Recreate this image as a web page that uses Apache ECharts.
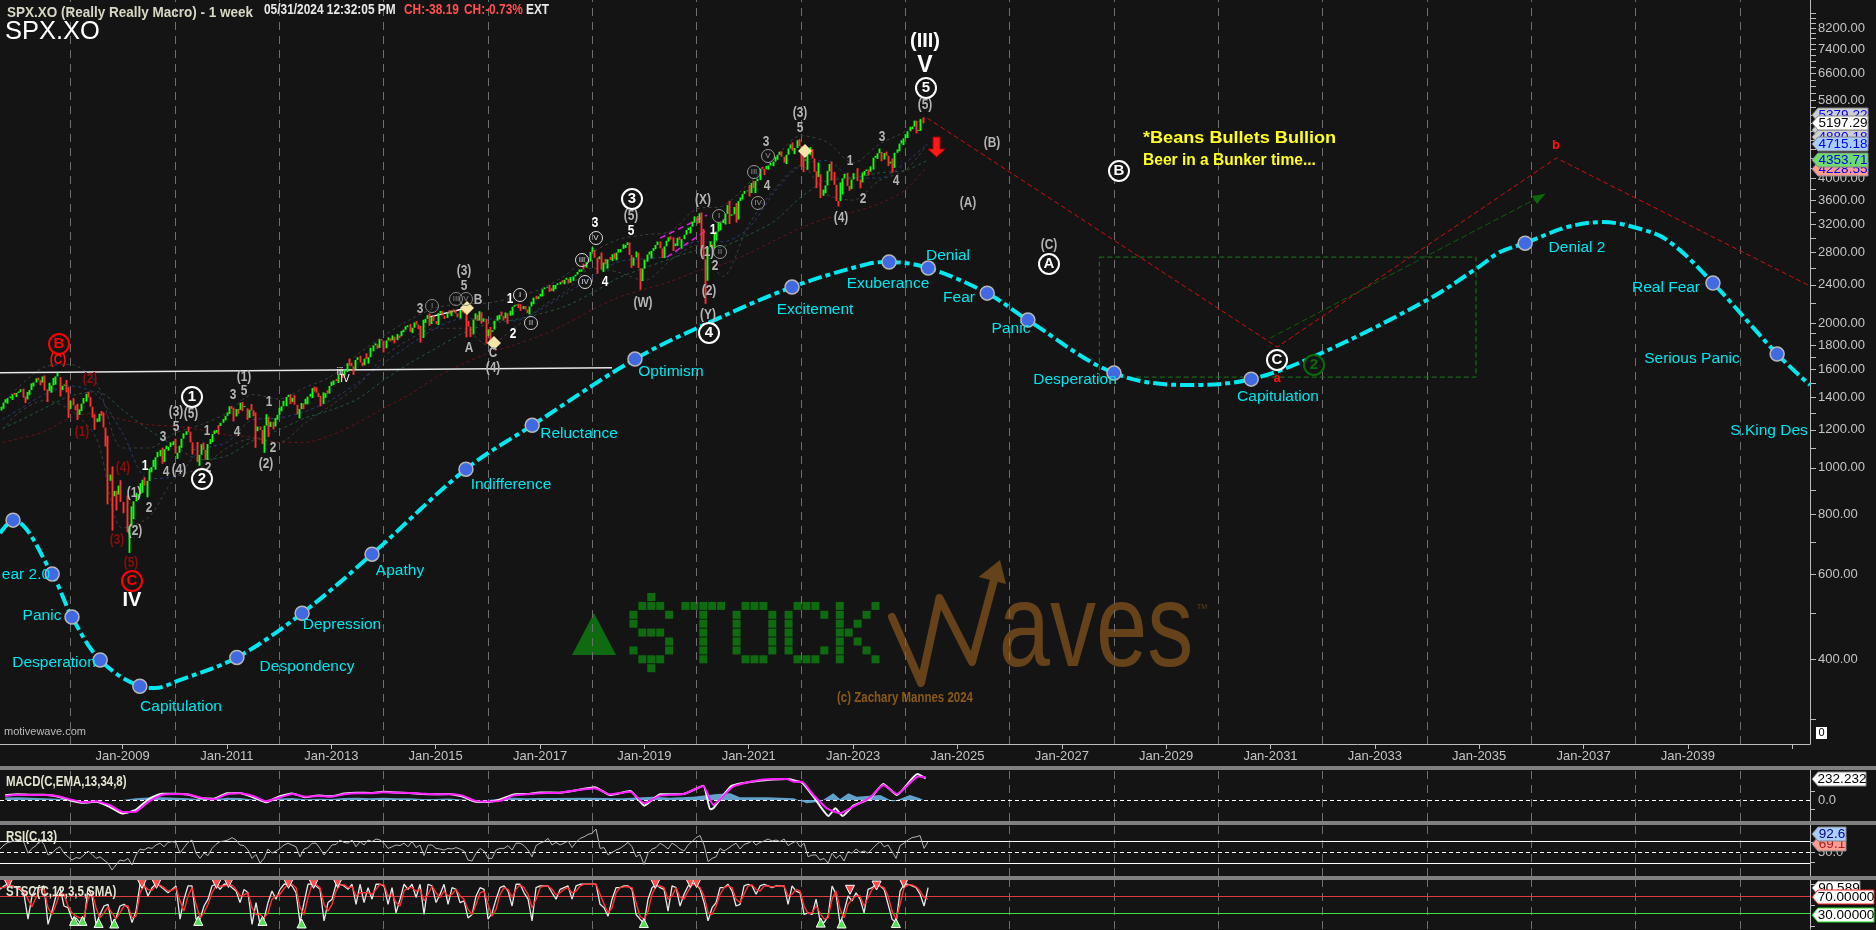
<!DOCTYPE html>
<html><head><meta charset="utf-8">
<style>html,body{margin:0;padding:0;background:#141414;overflow:hidden}#c{width:1876px;height:930px}</style>
<script src="https://cdn.jsdelivr.net/npm/echarts@6/dist/echarts.min.js"></script>
</head><body><div id="c"></div>
<script>
// ---- price history, one row per month from Sep 2006 ----
const priceStartYear = 2006.66;
const priceMid = [1316,1366,1396,1422,
1431,1457,1387,1452,1505,1522,1549,1445,1484,1549,1451,1490,
1325,1349,1288,1360,1425,1340,1245,1295,1213,940,873,880,
850,826,756,852,882,945,940,1004,1052,1090,1094,1105,
1136,1075,1150,1192,1130,1092,1065,1090,1121,1176,1199,1241,
1283,1343,1279,1320,1338,1270,1316,1192,1199,1224,1216,1219,
1289,1343,1404,1370,1353,1325,1356,1406,1465,1433,1359,1430,
1480,1520,1560,1555,1650,1626,1676,1656,1687,1698,1798,1775,
1838,1840,1841,1843,1877,1937,1978,1955,1985,1862,2040,1990,
2019,2097,2071,2106,2123,2094,2126,2091,1966,2033,2023,2012,
1880,1917,2022,2080,2046,2071,2161,2184,2139,2133,2164,2258,
2271,2351,2373,2328,2399,2433,2459,2425,2500,2553,2585,2675,
2810,2732,2750,2670,2712,2779,2801,2850,2904,2768,2736,2600,
2596,2775,2822,2905,2859,2886,3013,2889,3007,2986,3120,3169,
3329,3380,2711,2874,2864,3098,3226,3372,3340,3483,3585,3709,
3768,3906,3943,4185,4173,4247,4327,4468,4432,4471,4698,4620,
4662,4348,4463,4392,4023,3675,3863,4280,3874,3583,3993,3852,
3972,4079,3917,4138,4124,4409,4505,4370,4450,4327,4514,4719,
4839,5005,5117,5011,5303];
const priceClose = [1335.85,1377.94,1400.63,1418.30,
1438.24,1406.82,1420.86,1482.37,1530.62,1503.35,1455.27,1473.99,1526.75,1549.38,1481.14,1468.36,
1378.55,1330.63,1322.70,1385.59,1400.38,1280.00,1267.38,1282.83,1166.36,968.75,896.24,903.25,
825.88,735.09,797.87,872.81,919.14,919.32,987.48,1020.62,1057.08,1036.19,1095.63,1115.10,
1073.87,1104.49,1169.43,1186.69,1089.41,1030.71,1101.60,1049.33,1141.20,1183.26,1180.55,1257.64,
1286.12,1327.22,1325.83,1363.61,1345.20,1320.64,1292.28,1218.89,1131.42,1253.30,1246.96,1257.60,
1312.41,1365.68,1408.47,1397.91,1310.33,1362.16,1379.32,1406.58,1440.67,1412.16,1416.18,1426.19,
1498.11,1514.68,1569.19,1597.57,1630.74,1606.28,1685.73,1632.97,1681.55,1756.54,1805.81,1848.36,
1782.59,1859.45,1872.34,1883.95,1923.57,1960.23,1930.67,2003.37,1972.29,2018.05,2067.56,2058.90,
1994.99,2104.50,2067.89,2085.51,2107.39,2063.11,2103.84,1972.18,1920.03,2079.36,2080.41,2043.94,
1940.24,1932.23,2059.74,2065.30,2096.95,2098.86,2173.60,2170.95,2168.27,2126.15,2198.81,2238.83,
2278.87,2363.64,2362.72,2384.20,2411.80,2423.41,2470.30,2471.65,2519.36,2575.26,2584.84,2673.61,
2823.81,2713.83,2640.87,2648.05,2705.27,2718.37,2816.29,2901.52,2913.98,2711.74,2760.17,2506.85,
2704.10,2784.49,2834.40,2945.83,2752.06,2941.76,2980.38,2926.46,2976.74,3037.56,3140.98,3230.78,
3225.52,2954.22,2584.59,2912.43,3044.31,3100.29,3271.12,3500.31,3363.00,3269.96,3621.63,3756.07,
3714.24,3811.15,3972.89,4181.17,4204.11,4297.50,4395.26,4522.68,4307.54,4605.38,4567.00,4766.18,
4515.55,4373.94,4530.41,4131.93,4132.15,3785.38,4130.29,3955.00,3585.62,3871.98,4080.11,3839.50,
4076.60,3970.15,4109.31,4169.48,4179.83,4450.38,4588.96,4507.66,4288.05,4193.80,4567.80,4769.83,
4845.65,5096.27,5254.35,5035.69,5197.29];
const priceHigh = [1340,1389,1407,1431,
1441,1461,1438,1498,1535,1540,1556,1503,1538,1576,1545,1523,
1471,1396,1359,1397,1440,1404,1292,1313,1304,1167,1007,919,
943,876,832,888,930,956,997,1039,1080,1102,1112,1130,
1150,1112,1180,1219,1189,1132,1120,1129,1148,1196,1227,1263,
1303,1344,1333,1366,1371,1330,1357,1304,1219,1293,1278,1270,
1333,1378,1419,1423,1416,1364,1391,1426,1475,1471,1435,1449,
1510,1531,1570,1598,1687,1654,1698,1710,1730,1776,1814,1850,
1851,1867,1884,1897,1925,1968,1991,2005,2020,2031,2076,2094,
2072,2119,2117,2126,2134,2130,2132,2113,2021,2095,2116,2105,
2039,1962,2072,2112,2103,2120,2178,2194,2187,2169,2214,2278,
2301,2371,2401,2399,2418,2454,2484,2491,2519,2582,2658,2695,
2873,2835,2802,2718,2742,2791,2848,2916,2941,2940,2815,2800,
2708,2813,2861,2954,2954,2964,3028,3013,3022,3050,3154,3248,
3337,3394,3137,2955,3068,3233,3280,3515,3588,3550,3646,3761,
3871,3950,3989,4218,4238,4302,4430,4538,4546,4609,4743,4794,
4819,4595,4638,4594,4309,4075,4140,4326,4120,3919,4080,4101,
4095,4195,4110,4170,4232,4449,4607,4531,4540,4393,4587,4794,
4932,5112,5265,5264,5342];
const priceLow = [1290,1327,1360,1385,
1403,1400,1364,1416,1476,1484,1448,1371,1433,1489,1407,1435,
1270,1317,1257,1313,1373,1272,1200,1248,1107,840,741,816,
805,735,666,783,866,888,869,979,992,1020,1029,1086,
1071,1044,1101,1171,1066,1028,1010,1040,1039,1131,1174,1222,
1256,1294,1249,1295,1312,1258,1282,1101,1121,1075,1159,1202,
1259,1312,1343,1357,1291,1267,1325,1355,1397,1404,1343,1398,
1427,1487,1501,1537,1582,1560,1604,1627,1633,1647,1747,1769,
1737,1772,1832,1815,1860,1915,1916,1905,1941,1821,2001,1973,
1988,1981,2039,2049,2068,2056,2044,1867,1871,1894,2020,1993,
1812,1810,1938,2033,2025,1992,2075,2147,2120,2097,2084,2187,
2245,2271,2322,2329,2353,2405,2407,2417,2447,2520,2557,2605,
2683,2533,2585,2553,2594,2691,2699,2803,2864,2604,2631,2346,
2444,2681,2722,2848,2729,2728,2952,2822,2892,2855,3050,3070,
3214,2855,2192,2448,2767,2966,3115,3204,3210,3234,3280,3613,
3663,3725,3723,3965,4057,4165,4234,4367,4306,4278,4560,4485,
4222,4115,4160,4121,3811,3637,3721,3955,3585,3492,3699,3764,
3794,3943,3809,4049,4048,4167,4385,4336,4238,4104,4200,4547,
4683,4845,5057,4954,5012];
const firstOpen = 1303;

// ---- moving averages and bands on the price panel ----
const maYears = [2006.7,2007,2007.5,2008,2008.5,2009,2009.5,2010,2010.5,2011,2011.5,2012,2012.5,2013,2013.5,2014,2014.5,2015,2015.5,2016,2016.5,2017,2017.5,2018,2018.5,2019,2019.5,2020,2020.5,2021,2021.5,2022,2022.5,2023,2023.5,2024,2024.42];
const maFast = [1260,1320,1420,1480,1420,1180,950,960,1090,1130,1260,1270,1310,1385,1500,1650,1800,1950,2040,2040,2020,2130,2300,2500,2680,2720,2760,2950,2950,3150,3750,4250,4350,4000,4000,4300,4715];
const maMid = [1210,1250,1330,1410,1440,1320,1200,1110,1040,1060,1140,1200,1270,1320,1390,1520,1650,1770,1900,1990,2030,2090,2170,2310,2480,2600,2720,2830,2880,3050,3260,3650,3950,4000,4100,4150,4353];
const maSlow = [1130,1150,1190,1270,1300,1260,1230,1220,1200,1170,1160,1130,1130,1170,1240,1330,1420,1540,1640,1730,1800,1880,1990,2130,2260,2350,2440,2560,2650,2790,2970,3150,3300,3400,3540,3780,4228];
const bandUpper = [1360,1470,1620,1640,1500,1100,1100,1180,1230,1300,1420,1390,1470,1550,1720,1880,2030,2150,2190,2200,2260,2350,2520,2800,2980,3050,3100,3450,3500,3900,4400,4900,4750,4300,4700,5000,5400];
const bandLower = [1200,1300,1380,1320,1150,750,790,950,1000,1100,1150,1130,1240,1350,1480,1700,1850,1950,1950,1800,1950,2150,2330,2600,2550,2450,2700,2900,2500,3200,3800,4250,3700,3600,3950,4150,4700];

// ---- sentiment cycle curve ----
const cycleYears = [2006.65,2006.90,2007.65,2008.03,2008.57,2009.33,2009.62,2010.08,2011.19,2012.44,2013.78,2015.58,2016.85,2018.82,2020.26,2021.83,2023.27,2023.69,2024.44,2025.57,2026.35,2028.00,2029.46,2030.63,2031.89,2034.00,2034.96,2035.40,2035.88,2036.69,2037.37,2037.95,2038.60,2039.48,2040.71,2041.34];
const cycleValues = [732,779,602,490,399,352,349,362,404,499,662,994,1226,1683,2008,2375,2651,2677,2601,2307,2028,1574,1486,1529,1715,2232,2601,2808,2930,3165,3241,3165,2974,2421,1724,1486];
const cycleDotYears = [2006.90,2007.65,2008.03,2008.57,2009.33,2011.19,2012.44,2013.78,2015.58,2016.85,2018.82,2021.83,2023.69,2024.44,2025.57,2026.35,2028.00,2030.63,2035.88,2039.48,2040.71];
const cycleDotValues = [779,602,490,399,352,404,499,662,994,1226,1683,2375,2677,2601,2307,2028,1574,1529,2930,2421,1724];

// ---- projection paths ----
const neckYears = [2006.65,2018.38];
const neckValues = [1576,1615];
const projYears = [2024.42,2031.13,2036.48,2041.34];
const projValues = [5330,1783,4402,2387];
const trendYears = [2030.99,2036.26];
const trendValues = [1860,3706];
const boxYears = [2027.72,2034.94,2034.94,2027.72,2027.72];
const boxValues = [2741,2741,1544,1544,2741];
const channelAYears = [2019.30,2020.20]; const channelAValues = [3001,3351];
const channelBYears = [2019.43,2020.20]; const channelBValues = [2741,3118];
const channelCYears = [2014.87,2015.58]; const channelCValues = [2057,2146];

// ---- MACD panel ----
const macdSignalYears = [2006.75,2007,2007.25,2007.5,2007.75,2008,2008.25,2008.5,2008.75,2009,2009.25,2009.5,2009.75,2010,2010.25,2010.5,2010.75,2011,2011.25,2011.5,2011.75,2012,2012.25,2012.5,2012.75,2013,2013.25,2013.5,2013.75,2014,2014.25,2014.5,2014.75,2015,2015.25,2015.5,2015.75,2016,2016.25,2016.5,2016.75,2017,2017.38,2018.05,2018.34,2018.73,2019.0,2019.3,2019.75,2020.13,2020.32,2020.7,2021.2,2021.73,2021.86,2022.02,2022.24,2022.5,2022.75,2023.0,2023.33,2023.58,2023.84,2024.25,2024.39];
const macdSignal = [44,59,55,55,44,7,-26,-15,-55,-132,-129,-18,55,66,63,26,7,63,74,44,-15,26,66,37,44,37,63,74,74,85,81,77,70,63,63,51,-7,-18,-7,51,63,74,81,129,63,92,-37,48,66,155,-55,147,221,232,202,202,55,-92,-147,-74,29,166,66,258,250];
const macdLineYears = [2006.75,2007,2007.25,2007.5,2007.75,2008,2008.25,2008.5,2008.75,2009,2009.25,2009.5,2009.75,2010,2010.25,2010.5,2010.75,2011,2011.25,2011.5,2011.75,2012,2012.25,2012.5,2012.75,2013,2013.25,2013.5,2013.75,2014,2014.25,2014.5,2014.75,2015,2015.25,2015.5,2015.75,2016,2016.25,2016.5,2016.75,2017,2017.38,2018.05,2018.34,2018.73,2019.0,2019.3,2019.75,2020.13,2020.26,2020.32,2020.67,2021.2,2021.73,2022.02,2022.24,2022.53,2022.66,2022.8,2023.0,2023.33,2023.58,2023.84,2024.23,2024.39];
const macdLine = [52,64,58,58,38,-5,-30,-20,-75,-150,-110,10,70,70,60,18,15,75,78,30,-25,40,72,30,50,40,72,80,78,90,82,78,66,62,66,40,-18,-22,8,62,66,82,81,140,55,99,-63,63,66,158,-103,-92,155,213,232,191,37,-177,-92,-177,-66,18,177,55,287,239];
const macdHistYears = [2006.75,2007,2007.25,2007.5,2007.75,2008,2008.25,2008.5,2008.75,2009,2009.25,2009.5,2009.75,2010,2010.25,2010.5,2010.75,2011,2011.25,2011.5,2011.75,2012,2012.25,2012.5,2012.75,2013,2013.25,2013.5,2013.75,2014,2014.25,2014.5,2014.75,2015,2015.25,2015.5,2015.75,2016,2016.25,2016.5,2016.75,2017,2017.25,2017.9,2018.57,2019.17,2019.49,2019.94,2020.39,2020.65,2020.83,2021.35,2021.86,2022.11,2022.37,2022.62,2022.75,2022.91,2023.07,2023.52,2023.77,2024.09,2024.28,2024.35];
const macdHist = [28,30,26,20,14,0,0,0,0,0,18,28,30,24,20,8,8,24,22,6,0,16,22,8,14,10,22,24,20,24,18,18,10,10,16,6,0,0,14,24,18,22,22,25,18,37,25,37,66,74,29,29,18,-37,-20,74,10,74,37,55,-18,55,18,0];
const macdZero = [0];

// ---- RSI panel, read every four pixels ----
const indicatorStartYear = 2006.65, indicatorStep = 0.07667;
const rsiValues = [57.5,67.5,74,76,77.5,80,74,47,59,66,80,69,42.5,47,57.5,63,47,38,30,36,34,42.5,52.5,44,34,38,30,22,5,17.5,30,27.5,34,17.5,42.5,57.5,55,61,59,67.5,72,63,74,76,74,47,61,74,80,47,34,47,41,59,69,76,77.5,80,86,80,67.5,66,55,34,44,22,34,57.5,47,52.5,59,67.5,72,67.5,63,38,57.5,61,72,72,59,42.5,55,67.5,69,80,74,72,80,63,76,67.5,80,76,82.5,80,72,59,63,67.5,66,72,63,76,61,67.5,41,67.5,67.5,59,57.5,55,59,57.5,61,57.5,52.5,30,
27.5,47,59,52.5,34,34,55,59,59,66,55,72,72,66,55,38,66,72,76,84,67.5,74,67.5,72,77.5,61,74,84,88,94,96.7,107.5,59,61,42.5,49,55,59,66,74,63,38,44,19,47,57.5,61,72,66,57.5,72,66,57.5,52.5,67.5,76,86,91,67.5,26,34,38,59,52.5,59,66,72,57.5,69,72,77.5,67.5,74,77.5,82.5,77.5,80,76,82.5,66,72,77.5,63,72,38,42.5,42.5,30,34,22,47,34,42.5,27.5,51,47,57.5,49,52.5,47,57.5,67.5,76,63,67.5,51,34,66,72,80,86,88,91,59,76];
const rsiLevels = [77.5,22.5];
const rsiMid = [50];

// ---- stochastic panel, read every four pixels ----
const stochK = [87,95,100,95,91,87,75.5,17,71.5,91,91,95,5,36,71.5,91,48,44,17,20,9,9,91,71.5,5,28,48,52,5,20,48,52,44,9,36,99,99,71.5,91,100,95,87,79,87,95,17,64,95,95,17,17,48,64,95,100,87,99,100,91,83,56,87,79,5,56,5,17,56,83,64,87,99,100,95,79,9,56,99,100,95,87,13,56,64,99,99,95,87,99,52,99,56,91,64,99,99,95,52,91,32,64,99,87,99,68,99,28,99,95,56,75.5,99,52,91,87,56,60,20,
28,71.5,91,87,17,32,64,91,95,83,48,99,99,79,64,13,91,95,95,95,79,64,87,91,95,64,95,99,99,99,99,99,52,44,24,64,91,91,95,95,87,28,17,7,64,91,99,91,87,36,95,91,48,75.5,95,100,100,87,56,13,44,56,91,91,99,83,48,52,95,99,95,75.5,95,99,95,91,95,95,95,52,95,83,79,28,32,28,64,13,9,24,95,75.5,5,36,71.5,60,79,64,32,87,91,99,95,87,52,17,9,83,99,99,95,91,75.5,48,91];
const stochD = [91,91,97,95,91,88,83,64,46,68,87,87,44,28,52,79,75.5,48,32,24,20,22,64,79,44,20,32,46,32,18,32,48,48,20,24,79,95,87,85,97,97,91,83,85,91,60,36,71.5,91,52,20,32,52,79,95,95,95,97.5,97,87,71.5,74,79,44,28,28,20,32,64,71.5,75.5,89,99,99,91,44,28,68,99,99,91,52,36,52,83,97.5,97.5,91,93,71.5,79,79,79,75.5,87,99,97.5,71.5,75.5,56,48,83,91,91,83,87,60,75.5,95,79,68,83,71.5,75.5,87,71.5,64,40,
28,52,79,83,52,24,40,75.5,91,87,68,87,97.5,91,75.5,44,64,91,95,95,87,74,79,87,91,79,83,95,99,99,99,99,75.5,52,32,44,79,91,93,93,91,56,24,17,36,75.5,95,95,91,64,71.5,91,68,64,83,97.5,99,91,71.5,32,28,48,75.5,91,95,91,64,56,75.5,95,97.5,87,83,95,95,93,94,95,95,71.5,75.5,87,83,48,30,32,48,32,17,20,64,83,40,20,52,64,71.5,71.5,48,68,87,95,95,91,71.5,36,17,52,91,97.5,97.5,93,83,68,64];
const stochLevels = [70,30];
const stochSellYears = [2006.81,2009.37,2009.65,2010.80,2011.03,2012.18,2012.66,2013.12,2019.21,2019.88,2020.00,2022.94,2023.45,2023.97];
const stochSellValues = [102,100,100,100,102,100,100,102,100,102,102,86,96,102];
const stochBuyYears = [2008.07,2008.23,2008.54,2008.84,2010.45,2011.68,2012.43,2018.99,2022.38,2022.78,2023.82];
const stochBuyValues = [13,13,8,7,13,13,7,8,9,7,8];

// ---- axis ticks ----
const priceTicks = [8200,7400,6600,5800,4000,3600,3200,2800,2400,2000,1800,1600,1400,1200,1000,800,600,400];
const priceMinorTicks = [8800,8600,8400,8000,7800,7600,7200,7000,6800,6400,6200,6000,5600,5400,5200,5000,4800,4600,4400,4200,3800,3400,3000,2600,2200,1900,1700,1500,1300,1100,900,700,500,300];
const yearLabels = [2009,2011,2013,2015,2017,2019,2021,2023,2025,2027,2029,2031,2033,2035,2037,2039];
const tickYears = [2009,2011,2013,2015,2017,2019,2021,2023,2025,2027,2029,2031,2033,2035,2037,2039,2041];
const gridYears = [2008,2010,2012,2014,2016,2018,2020,2022,2024,2026,2028,2030,2032,2034,2036,2038,2040];

// ---- texts ----
const phaseLabels = [["ear 2.0",26,575],["Panic",42,616],["Desperation",54,663],["Capitulation",181,707],["Despondency",307,667],["Depression",342,625],["Apathy",400,571],["Indifference",511,485],["Reluctance",579,434],["Optimism",671,372],["Excitement",815,310],["Exuberance",888,284],["Denial",948,256],["Fear",959,298],["Panic",1011,329],["Desperation",1075,380],["Capitulation",1278,397],["Denial 2",1577,248],["Real Fear",1666,288],["Serious Panic",1692,359],["S.King Des",1769,431]];
const greyCounts = [["(1)",134,493],["(2)",135,531],["2",149,508],["3",163,437],["4",166,472],["5",176,427],["(3)",176,412],["(4)",179,470],["(5)",191,414],["1",207,431],["2",208,468],["(1)",244,377],["5",244,391],["3",233,395],["4",237,432],["1",269,402],["2",273,448],["(2)",266,464],["(3)",464,271],["5",464,286],["3",420,309],["B",478,300],["A",469,348],["C",493,353],["(4)",493,368],["(W)",643,303],["(5)",631,216],["(X)",703,200],["(1)",707,252],["2",715,266],["(2)",709,291],["(Y)",708,315],["(3)",800,113],["5",800,128],["3",766,142],["4",767,186],["1",850,161],["2",863,199],["(4)",841,218],["3",882,137],["4",896,181],["(5)",925,105],["(B)",992,143],["(A)",968,203],["(C)",1049,245]];
const whiteCounts = [["1",145,466],["1",510,299],["2",513,334],["3",595,223],["4",605,282],["5",631,231],["1",713,230]];
const redCounts = [["(C)",58,360]];
const darkRedCounts = [["(2)",90,379],["(1)",82,432],["(4)",123,468],["(3)",117,540],["(5)",131,563]];
const ringsLarge = [["1",192,397,"#fff"],["2",202,479,"#fff"],["3",632,199,"#fff"],["4",709,333,"#fff"],["5",926,88,"#fff"],["A",1049,264,"#fff"],["B",1119,171,"#fff"],["C",1277,360,"#fff"],["B",59,344,"#ff0000"],["C",132,581,"#ff0000"],["2",1314,365,"#0a6a0a"]];
const ringsSmall = [["I",432,306,"#888"],["III",456,299,"#888"],["V",466,299,"#888"],["I",520,295,"#ddd"],["III",582,260,"#ddd"],["IV",585,282,"#ddd"],["V",596,238,"#ddd"],["II",531,323,"#ccc"],["I",719,216,"#999"],["II",720,252,"#999"],["III",754,172,"#999"],["IV",758,203,"#999"],["V",768,156,"#999"]];
const diamonds = [[467,308],[805,151],[494,343]];
const priceTags = [["5379.22",115,"#cfcfcf","#0000ee"],["5030.70",130,"#cfcfcf","#0000ee"],["4880.18",137,"#cfcfcf","#0000ee"],["4228.55",169,"#ff9c94","#0000ee"],["4353.71",160,"#6fdc6f","#0000ee"],["4715.18",144,"#a9cdff","#0000ee"],["5197.29",123,"#ffffff","#000000"]];
const pixelLogo = {
 "$":["..#..",".###.","#...#","#....",".###.","....#","#...#",".###.","..#.."],
 "T":[".....","#####","..#..","..#..","..#..","..#..","..#..","..#..","....."],
 "O":[".....",".###.","#...#","#...#","#...#","#...#","#...#",".###.","....."],
 "C":[".....",".###.","#...#","#....","#....","#....","#...#",".###.","....."],
 "K":[".....","#...#","#..#.","#.#..","##...","#.#..","#..#.","#...#","....."]};

// ---- plot geometry ----
const XMIN=2006.65, XMAX=2041.34, PMIN=267, PMAX=9375;
const BG='#141414', GRIDC='#6e6e6e', AXC='#c4c4c4';
const FONT='"Liberation Sans",Arial,sans-serif';

const zip=(a,b)=>a.map((v,i)=>[v,b[i]]);
const onIndicatorSteps=vals=>vals.map((v,i)=>[indicatorStartYear+i*indicatorStep,v]);
// two candles a month: month open to mid-month, mid-month to close; the month's extremes go to the half nearest them
let prev=firstOpen;
const candles=[];
priceClose.forEach((c,i)=>{
 const m=priceMid[i],t=priceStartYear+i/12;
 const firstHi=Math.max(prev,m),firstLo=Math.min(prev,m),secHi=Math.max(m,c),secLo=Math.min(m,c);
 candles.push([t-1/48,prev,m,firstLo<=secLo?priceLow[i]:firstLo,firstHi>secHi?priceHigh[i]:firstHi]);
 candles.push([t+1/48,m,c,firstLo<=secLo?secLo:priceLow[i],firstHi>secHi?secHi:priceHigh[i]]);
 prev=c;});

const panelGrids=[{left:0,right:66,top:0,height:744},{left:0,right:66,top:770,height:51},{left:0,right:66,top:825,height:51},{left:0,right:66,top:880,height:49}];
const baseX=(i,extra)=>Object.assign({type:'value',gridIndex:i,min:XMIN,max:XMAX,splitLine:{show:false},axisLine:{show:false},axisTick:{show:false},axisLabel:{show:false}},extra||{});
const xAxes=[
 baseX(0,{axisLine:{show:true,onZero:false,lineStyle:{color:'#bdbdbd',width:1}},axisTick:{show:true,length:5,lineStyle:{color:'#bdbdbd'},customValues:tickYears},axisLabel:{show:true,color:AXC,fontFamily:FONT,fontSize:13,margin:6,customValues:yearLabels,formatter:v=>'Jan-'+Math.round(v)}}),
 baseX(1),baseX(2),baseX(3)];
const rightAxis=(extra)=>Object.assign({type:'value',position:'right',splitLine:{show:false},axisLine:{show:true,onZero:false,lineStyle:{color:'#bdbdbd',width:1}},axisTick:{show:true,length:5,lineStyle:{color:'#bdbdbd'}},axisLabel:{color:AXC,fontFamily:FONT,fontSize:13,margin:8}},extra);
const yAxes=[
 {type:'log',gridIndex:0,min:PMIN,max:PMAX,show:false,scale:true},
 rightAxis({gridIndex:0,min:Math.log(PMIN),max:Math.log(PMAX),
   axisTick:{show:true,length:6,lineStyle:{color:'#bdbdbd'},customValues:priceTicks.concat(priceMinorTicks).map(Math.log)},
   axisLabel:{color:AXC,fontFamily:FONT,fontSize:13,margin:8,customValues:priceTicks.map(Math.log),formatter:v=>Math.exp(v).toFixed(0)+'.00'}}),
 rightAxis({gridIndex:1,min:-232,max:331,axisTick:{show:true,length:5,lineStyle:{color:'#bdbdbd'},customValues:[-100,100]},axisLabel:{color:AXC,fontFamily:FONT,fontSize:13,margin:8,customValues:macdZero,formatter:v=>v.toFixed(1)}}),
 rightAxis({gridIndex:2,min:-10,max:117.5,axisTick:{show:true,length:5,lineStyle:{color:'#bdbdbd'},customValues:[25,50,75]},axisLabel:{color:AXC,fontFamily:FONT,fontSize:13,margin:8,customValues:rsiMid,formatter:v=>v.toFixed(1)}}),
 rightAxis({gridIndex:3,min:-6,max:109,axisTick:{show:true,length:5,lineStyle:{color:'#bdbdbd'},customValues:[0,50,100]},axisLabel:{show:false}})
];
const gridLineSeries=(xi,yi,baseVal)=>({type:'line',xAxisIndex:xi,yAxisIndex:yi,z:1,silent:true,symbol:'none',lineStyle:{opacity:0},data:[[XMIN,baseVal]],
  markLine:{silent:true,symbol:'none',animation:false,z:1,label:{show:false},lineStyle:{color:GRIDC,type:[8,6],width:1},data:gridYears.map(y=>({xAxis:y}))}});
const hline=(yi,xi,vals,color,type,w)=>({type:'line',xAxisIndex:xi,yAxisIndex:yi,z:3,silent:true,symbol:'none',lineStyle:{opacity:0},data:[[XMIN,vals[0]]],
  markLine:{silent:true,symbol:'none',animation:false,z:3,label:{show:false},lineStyle:{color,type,width:w},data:vals.map(v=>({yAxis:v}))}});
const pline=(x,y,color,w,type,extra)=>Object.assign({type:'line',xAxisIndex:0,yAxisIndex:0,data:zip(x,y),symbol:'none',silent:true,animation:false,z:4,lineStyle:{color,width:w,type}},extra||{});

const series=[
 gridLineSeries(0,0,1000),gridLineSeries(1,2,0),gridLineSeries(2,3,50),gridLineSeries(3,4,50),
 pline(maYears,bandUpper,'#3e3e3e',1,[3,3],{smooth:.3}),
 pline(maYears,bandLower,'#3e3e3e',1,[3,3],{smooth:.3}),
 pline(maYears,maSlow,'#6b1414',1,[3,3],{smooth:.3}),
 pline(maYears,maMid,'#1f5a3c',1,[3,3],{smooth:.3}),
 pline(maYears,maFast,'#243e78',1,[3,3],{smooth:.3}),
 {type:'candlestick',xAxisIndex:0,yAxisIndex:0,z:5,animation:false,silent:true,barWidth:1,encode:{x:0,y:[1,2,3,4]},data:candles,
  itemStyle:{color:'#10ff10',color0:'#ff3030',borderColor:'#10ff10',borderColor0:'#ff3030',borderWidth:1.9}},
 pline(neckYears,neckValues,'#e8e8e8',1.5,'solid'),
 pline(channelAYears,channelAValues,'#e020e0',1.5,[6,4]),
 pline(channelBYears,channelBValues,'#e020e0',1.5,[6,4]),
 pline(channelCYears,channelCValues,'#ffffff',1.5,'solid'),
 pline(boxYears,boxValues,'#1a7a1a',1,[5,3]),
 pline(projYears,projValues,'#d01010',1,[5,3]),
 pline(trendYears,trendValues,'#0f5f0f',1,[6,3]),
 pline(cycleYears,cycleValues,'#00e8f0',4,[14,4,5,4],{smooth:.35,z:6}),
 {type:'scatter',xAxisIndex:0,yAxisIndex:0,z:7,silent:true,animation:false,symbolSize:14,data:zip(cycleDotYears,cycleDotValues),itemStyle:{color:'#4169e1',borderColor:'#b8b8b8',borderWidth:1.5,opacity:1}},
 // MACD
 {type:'line',xAxisIndex:1,yAxisIndex:2,data:zip(macdHistYears,macdHist),symbol:'none',z:3,silent:true,lineStyle:{width:0},areaStyle:{color:'#6ab0de',origin:0,opacity:.9},animation:false},
 hline(2,1,macdZero,'#ffffff',[4,3],1.2),
 {type:'line',xAxisIndex:1,yAxisIndex:2,data:zip(macdLineYears,macdLine),symbol:'none',z:5,silent:true,smooth:.15,lineStyle:{color:'#f0f0f0',width:2},animation:false},
 {type:'line',xAxisIndex:1,yAxisIndex:2,data:zip(macdSignalYears,macdSignal),symbol:'none',z:6,silent:true,smooth:.15,lineStyle:{color:'#ff20ff',width:2},animation:false},
 // RSI
 hline(3,2,rsiLevels,'#ffffff','solid',1.2),
 hline(3,2,rsiMid,'#ffffff',[4,3],1.2),
 {type:'line',xAxisIndex:2,yAxisIndex:3,data:onIndicatorSteps(rsiValues),symbol:'none',z:5,silent:true,lineStyle:{color:'#b4b4b4',width:1},animation:false},
 // Stochastic
 hline(4,3,[stochLevels[0]],'#e03a3a','solid',1.2),
 hline(4,3,[stochLevels[1]],'#40e040','solid',1.2),
 {type:'line',xAxisIndex:3,yAxisIndex:4,data:onIndicatorSteps(stochK),symbol:'none',z:5,silent:true,lineStyle:{color:'#e8e8e8',width:1.3},animation:false},
 {type:'line',xAxisIndex:3,yAxisIndex:4,data:onIndicatorSteps(stochD),symbol:'none',z:6,silent:true,lineStyle:{color:'#ff3030',width:1.4},animation:false},
 {type:'scatter',xAxisIndex:3,yAxisIndex:4,z:7,silent:true,animation:false,symbol:'triangle',symbolRotate:180,symbolSize:9,data:zip(stochSellYears,stochSellValues),itemStyle:{color:'#ff4a4a',borderColor:'#fff',borderWidth:1,opacity:1}},
 {type:'scatter',xAxisIndex:3,yAxisIndex:4,z:7,silent:true,animation:false,symbol:'triangle',symbolSize:9,data:zip(stochBuyYears,stochBuyValues),itemStyle:{color:'#50e050',borderColor:'#fff',borderWidth:1,opacity:1}}
];

// ---- graphic decorations ----
const g=[];
const text=(t,x,y,fill,font,align,z,sx)=>g.push({type:'text',x,y,scaleX:sx||1,silent:true,z:z===undefined?50:z,style:{text:t,fill,font,align:align||'center',verticalAlign:'middle',textAlign:align||'center',textVerticalAlign:'middle'}});
const rect=(x,y,w,h,fill,z)=>g.push({type:'rect',silent:true,z:z||0,shape:{x,y,width:w,height:h},style:{fill}});
const poly=(pts,fill,stroke,z)=>g.push({type:'polygon',silent:true,z:z===undefined?50:z,shape:{points:pts},style:{fill,stroke:stroke||null,lineWidth:1}});
// separators
rect(0,766,1876,4,'#808080',40);rect(0,821,1876,4,'#808080',40);rect(0,876,1876,4,'#808080',40);
// logo
poly([[572,655],[616,655],[594,613]],'#0f6b0f',null,0);
const logoCols={"$":629.4,"T":681.4,"O":732.6,"C":784.6,"K":835.8};
Object.keys(pixelLogo).forEach(k=>pixelLogo[k].forEach((row,r)=>row.split('').forEach((c,i)=>{if(c==='#')rect(logoCols[k]+i*8.93,593+r*8.9,8,8,'#0f6b0f',0);})));
g.push({type:'polyline',silent:true,z:0,shape:{points:[[892,617],[921,683],[939.5,598],[972,662],[994,580]]},style:{stroke:'#654219',lineWidth:8,fill:null,lineJoin:'round',lineCap:'round'}});
poly([[1000,560],[978.5,577],[1006,584]],'#654219',null,0);
text('aves',1096,633,'#654219','118px '+FONT,'center',0,.78);
text('TM',1202,607,'#654219','7px '+FONT,'center',0);
text('(c) Zachary Mannes 2024',905,698,'#8a5a1a','bold 14px '+FONT,'center',0,.82);
// header
text('SPX.XO (Really Really Macro) - 1 week',7,13,'#d8d8c4','bold 15px '+FONT,'left',50,.9);
text('05/31/2024 12:32:05 PM',264,10,'#e8e8e8','bold 14px '+FONT,'left',50,.85);
text('CH:-38.19',404,10,'#ff5050','bold 14px '+FONT,'left',50,.85);
text('CH:-0.73%',464,10,'#ff5050','bold 14px '+FONT,'left',50,.85);
text('EXT',526,10,'#e8e8e8','bold 14px '+FONT,'left',50,.85);
text('SPX.XO',5,32,'#ffffff','25.5px '+FONT,'left');
text('motivewave.com',4,732,'#bbbbbb','11px '+FONT,'left');
text('MACD(C,EMA,13,34,8)',6,782,'#e4e4d0','bold 14px '+FONT,'left',50,.82);
text('RSI(C,13)',6,837,'#e4e4d0','bold 14px '+FONT,'left',50,.82);
text('STSC(C,12,3,5,SMA)',6,892,'#e4e4d0','bold 14px '+FONT,'left',50,.82);
// annotations
phaseLabels.forEach(p=>text(p[0],p[1],p[2],'#00e5ee','15.5px '+FONT));
greyCounts.forEach(p=>text(p[0],p[1],p[2],'#b4b4b4','bold 14px '+FONT,'center',50,.85));
whiteCounts.forEach(p=>text(p[0],p[1],p[2],'#ffffff','bold 14px '+FONT,'center',50,.85));
redCounts.forEach(p=>text(p[0],p[1],p[2],'#f01010','bold 14px '+FONT,'center',50,.85));
darkRedCounts.forEach(p=>text(p[0],p[1],p[2],'#8a0e0e','bold 14px '+FONT,'center',50,.85));
const ring=(t,x,y,r,color,font,w,fill)=>{g.push({type:'circle',silent:true,z:50,shape:{cx:x,cy:y,r},style:{fill:fill,stroke:color,lineWidth:w}});text(t,x,y,color,font);};
ringsLarge.forEach(p=>ring(p[0],p[1],p[2],10,p[3],'bold 15px '+FONT,2,BG));
ringsSmall.forEach(p=>ring(p[0],p[1],p[2],6.5,p[3],'8px '+FONT,1,'transparent'));
text('IV',132,600,'#ffffff','bold 20px '+FONT);
text('iii',340,372,'#ffffff','10px '+FONT);
text('IV',345,379,'#ffffff','10px '+FONT);
text('(III)',925,41,'#ffffff','bold 20px '+FONT);
text('V',925,66,'#ffffff','bold 23px '+FONT);
text('a',1277,378,'#ff1010','bold 13px '+FONT);
text('b',1556,145,'#ff1010','bold 13px '+FONT);
text('*Beans Bullets Bullion',1143,138,'#ffff20','bold 17px '+FONT,'left',50,1.065);
text('Beer in a Bunker time...',1143,160,'#ffff20','bold 17px '+FONT,'left',50,.915);
diamonds.forEach(d=>poly([[d[0],d[1]-7],[d[0]+7,d[1]],[d[0],d[1]+7],[d[0]-7,d[1]]],'#f3e6a6',null,20));
poly([[933,137],[940,137],[940,149],[945,149],[936.5,157],[928,149],[933,149]],'#ff1a1a','#a00',30);
poly([[1545,194],[1532,196],[1537,204]],'#0a6a0a',null,30);
// price tags
const tag=(t,y,fill,color,x0,x1,stroke)=>{poly([[x0,y],[x0+6,y-7],[x1,y-7],[x1,y+7],[x0+6,y+7]],fill,stroke||'#888',60);text(t,(x0+x1)/2+3,y,color,'13.5px '+FONT,'center',60);};
priceTags.forEach(p=>tag(p[0],p[1],p[2],p[3],1812,1868));
tag('232.232',779,'#ffffff','#000000',1812,1866);
tag('69.1',844,'#ff9c94','#a02020',1812,1846);
tag('92.6',834,'#a9cdff','#000080',1812,1846);
tag('90.589',888,'#ffffff','#000000',1812,1860);
tag('70.00000',897,'#ffffff','#000000',1812,1874,'#ff2020');
tag('30.00000',915,'#ffffff','#000000',1812,1874,'#20e020');
g.push({type:'rect',silent:true,z:60,shape:{x:1816,y:727,width:11,height:12},style:{fill:'#ffffff'}});
text('0',1821.5,733,'#000000','11px '+FONT,'center',60);

const chart=echarts.init(document.getElementById('c'),null,{renderer:'canvas'});
chart.setOption({backgroundColor:BG,animation:false,grid:panelGrids,xAxis:xAxes,yAxis:yAxes,series,graphic:{elements:g}});
</script></body></html>
